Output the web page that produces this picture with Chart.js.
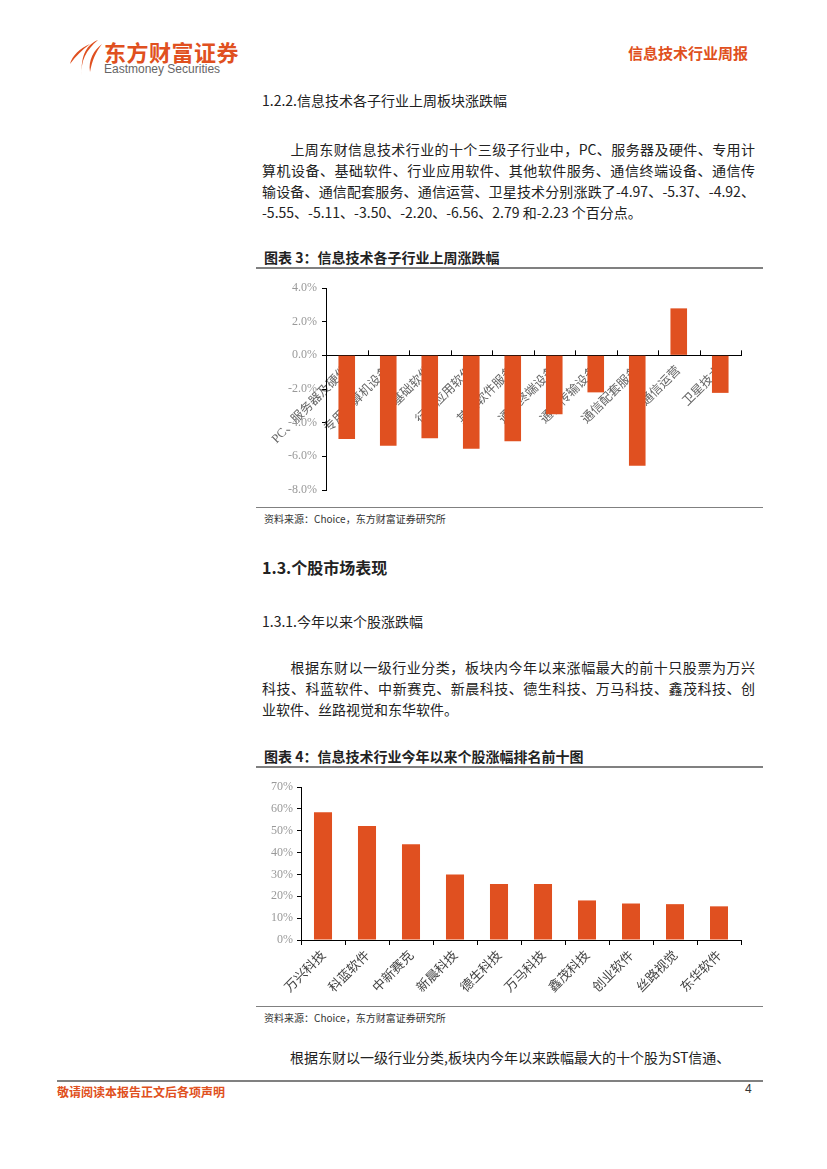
<!DOCTYPE html>
<html>
<head>
<meta charset="utf-8">
<script src="https://cdn.jsdelivr.net/npm/chart.js@4.4.0/dist/chart.umd.min.js"></script>
<style>
  body { margin: 0; background: #fff; }
  .page { position: relative; width: 827px; height: 1169px; font-family: "Noto Sans CJK SC", sans-serif; color: #222; }
  .abs { position: absolute; }
  .txt { font-size: 14px; line-height: 21px; left: 262px; width: 493px; }
  .jl { text-align: justify; text-align-last: justify; }
  .ttl { font-size: 14px; font-weight: bold; left: 264px; }
  .rule { left: 256px; width: 507px; background: #808080; }
  .src { font-size: 10px; left: 264px; color: #333; }
</style>
</head>
<body>
<div class="page">
  <!-- header -->
  <svg class="abs" style="left:68px;top:38px" width="36" height="40" viewBox="0 0 36 40">
    <path d="M30 2 C20 6 12 16 14 38 C12 24 18 12 30 2 Z" fill="#e05020"/>
    <path d="M22 6 C12 10 4 18 2 26 C8 18 14 12 22 6 Z" fill="#e05020"/>
    <path d="M34 6 C26 12 20 22 22 34 C24 22 28 14 34 6 Z" fill="#e05020"/>
  </svg>
  <div class="abs" style="left:104px;top:40px;font-size:22px;line-height:22px;font-weight:bold;color:#e05020;letter-spacing:0.5px">东方财富证券</div>
  <div class="abs" style="left:104px;top:63px;font-size:12px;line-height:12px;color:#666;font-family:'Liberation Sans',sans-serif">Eastmoney Securities</div>
  <div class="abs" style="left:628px;top:42px;font-size:15px;font-weight:bold;color:#e05020">信息技术行业周报</div>

  <div class="abs txt" style="top:90px">1.2.2.信息技术各子行业上周板块涨跌幅</div>
  <div class="abs txt" style="top:139px">
    <div class="jl">&emsp;&emsp;上周东财信息技术行业的十个三级子行业中，PC、服务器及硬件、专用计</div>
    <div class="jl">算机设备、基础软件、行业应用软件、其他软件服务、通信终端设备、通信传</div>
    <div class="jl">输设备、通信配套服务、通信运营、卫星技术分别涨跌了-4.97、-5.37、-4.92、</div>
    <div>-5.55、-5.11、-3.50、-2.20、-6.56、2.79 和-2.23 个百分点。</div>
  </div>
  <div class="abs ttl" style="top:247px">图表 3：信息技术各子行业上周涨跌幅</div>
  <div class="abs rule" style="top:267px;height:2px"></div>
  <div class="abs" style="left:256px;top:272px;width:507px;height:232px"><canvas id="c1"></canvas></div>
  <div class="abs rule" style="top:507px;height:1px"></div>
  <div class="abs src" style="top:511px">资料来源：Choice，东方财富证券研究所</div>

  <div class="abs" style="left:262px;top:555px;font-size:16px;font-weight:bold">1.3.个股市场表现</div>
  <div class="abs txt" style="top:611px">1.3.1.今年以来个股涨跌幅</div>
  <div class="abs txt" style="top:657px">
    <div class="jl">&emsp;&emsp;根据东财以一级行业分类，板块内今年以来涨幅最大的前十只股票为万兴</div>
    <div class="jl">科技、科蓝软件、中新赛克、新晨科技、德生科技、万马科技、鑫茂科技、创</div>
    <div>业软件、丝路视觉和东华软件。</div>
  </div>
  <div class="abs ttl" style="top:746px">图表 4：信息技术行业今年以来个股涨幅排名前十图</div>
  <div class="abs rule" style="top:766px;height:2px"></div>
  <div class="abs" style="left:256px;top:772px;width:507px;height:232px"><canvas id="c2"></canvas></div>
  <div class="abs rule" style="top:1006px;height:1px"></div>
  <div class="abs src" style="top:1010px">资料来源：Choice，东方财富证券研究所</div>

  <div class="abs txt" style="top:1047px">&emsp;&emsp;根据东财以一级行业分类,板块内今年以来跌幅最大的十个股为ST信通、</div>

  <!-- footer -->
  <div class="abs" style="left:57px;top:1080px;width:706px;height:2px;background:#808080"></div>
  <div class="abs" style="left:57px;top:1083px;font-size:12px;font-weight:bold;color:#e05020">敬请阅读本报告正文后各项声明</div>
  <div class="abs" style="left:745px;top:1082px;font-size:12px;color:#333;font-family:'Liberation Sans',sans-serif">4</div>
</div>

<script>
const sectors = ['PC、服务器及硬件', '专用计算机设备', '基础软件', '行业应用软件', '其他软件服务', '通信终端设备', '通信传输设备', '通信配套服务', '通信运营', '卫星技术'];
const sectorChange = [-4.97, -5.37, -4.92, -5.55, -5.11, -3.50, -2.20, -6.56, 2.79, -2.23];
const sectorTicks = [4, 2, 0, -2, -4, -6, -8];

const stocks = ['万兴科技', '科蓝软件', '中新赛克', '新晨科技', '德生科技', '万马科技', '鑫茂科技', '创业软件', '丝路视觉', '东华软件'];
const stockGain = [58.5, 52.2, 43.8, 30.0, 25.6, 25.6, 18.1, 16.7, 16.4, 15.4];
const stockTicks = [0, 10, 20, 30, 40, 50, 60, 70];

const BAR = '#e05020';
const tickFont = { family: "'Liberation Serif', 'Noto Sans CJK SC'", size: 12 };
const catFont = { family: "'Liberation Serif', 'Noto Sans CJK SC'", size: 12.5 };

// small upward tick marks on the zero line, between categories
const upTicks = {
    id: 'upTicks',
    afterDraw(chart) {
        const x = chart.scales.x, y = chart.scales.y;
        const y0 = y.getPixelForValue(0);
        const ctx = chart.ctx;
        ctx.save();
        ctx.strokeStyle = '#000';
        ctx.lineWidth = 1;
        ctx.beginPath();
        for (let i = 0; i <= sectors.length; i++) {
            const px = Math.round(x.left + (x.right - x.left) * i / sectors.length) + 0.5;
            ctx.moveTo(px, y0);
            ctx.lineTo(px, y0 - 5);
        }
        ctx.stroke();
        ctx.restore();
    }
};

new Chart(document.getElementById('c1'), {
    type: 'bar',
    data: {
        labels: sectors,
        datasets: [{ data: sectorChange, backgroundColor: BAR, barPercentage: 0.8, categoryPercentage: 0.5 }]
    },
    options: {
        responsive: true,
        maintainAspectRatio: false,
        animation: false,
        layout: { padding: { top: 16, right: 22, bottom: 14, left: 0 } },
        plugins: { legend: { display: false }, tooltip: { enabled: false } },
        scales: {
            x: {
                position: { y: 0 },
                z: 1,
                grid: { display: false },
                border: { color: '#000', width: 1 },
                ticks: { font: catFont, color: '#666', minRotation: 45, maxRotation: 45, padding: 0 }
            },
            y: {
                min: -8, max: 4,
                afterBuildTicks: (s) => { s.ticks = sectorTicks.map(v => ({ value: v })); },
                afterFit: (s) => { s.width = 70; },
                grid: { drawOnChartArea: false, tickLength: 4, color: '#000' },
                border: { color: '#000', width: 1 },
                ticks: { font: tickFont, color: '#999', padding: 5, callback: (v) => v.toFixed(1) + '%' }
            }
        }
    },
    plugins: [upTicks]
});

new Chart(document.getElementById('c2'), {
    type: 'bar',
    data: {
        labels: stocks,
        datasets: [{ data: stockGain, backgroundColor: BAR, barPercentage: 0.82, categoryPercentage: 0.5 }]
    },
    options: {
        responsive: true,
        maintainAspectRatio: false,
        animation: false,
        layout: { padding: { top: 15, right: 22, bottom: 0, left: 0 } },
        plugins: { legend: { display: false }, tooltip: { enabled: false } },
        scales: {
            x: {
                grid: { drawOnChartArea: false, offset: true, tickLength: 5, color: '#000' },
                border: { color: '#000', width: 1 },
                afterFit: (s) => { s.height = 64; },
                ticks: { font: { family: "'Noto Sans CJK SC'", size: 13 }, color: '#444', minRotation: 45, maxRotation: 45, padding: 2 }
            },
            y: {
                min: 0, max: 70,
                afterBuildTicks: (s) => { s.ticks = stockTicks.map(v => ({ value: v })); },
                afterFit: (s) => { s.width = 45; },
                grid: { drawOnChartArea: false, tickLength: 4, color: '#000' },
                border: { color: '#000', width: 1 },
                ticks: { font: tickFont, color: '#999', padding: 4, callback: (v) => v + '%' }
            }
        }
    }
});
</script>
</body>
</html>
